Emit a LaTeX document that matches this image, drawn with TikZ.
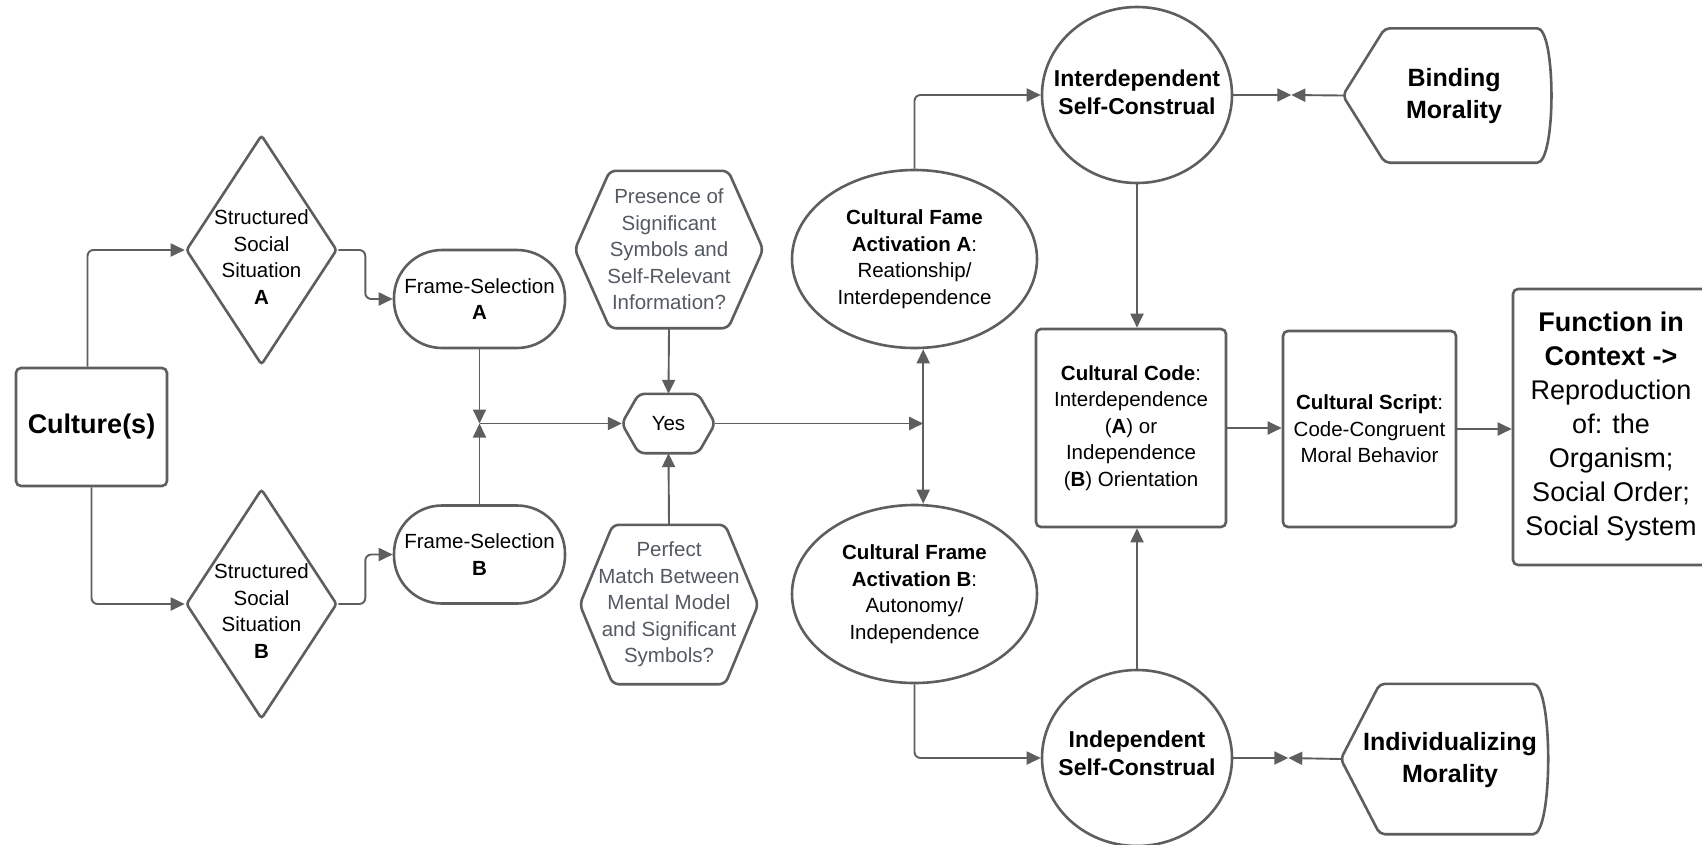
\documentclass[tikz,border=0pt]{standalone}
\usepackage{fontspec}
\setmainfont{Liberation Sans}
\usetikzlibrary{shapes.geometric,arrows.meta,calc}
\definecolor{edge}{RGB}{94,94,94}
\definecolor{qtext}{RGB}{84,90,98}

\tikzset{
  txt/.style={font=\fontsize{20.5}{26.5}\selectfont, text=black, align=center},
  shapeline/.style={draw=edge, line width=2.6pt},
  boxnode/.style={txt, shapeline, rectangle, rounded corners=5pt, inner sep=0pt},
  framenode/.style={txt, shapeline, rectangle, rounded corners=48pt, inner sep=0pt,
    minimum width=171pt, minimum height=98pt},
  diamondnode/.style={shapeline, diamond, rounded corners=3pt, inner sep=0pt,
    minimum width=151pt, minimum height=230pt},
  ovalnode/.style={txt, shapeline, ellipse, inner sep=0pt},
  hexnode/.style={txt, rectangle, inner sep=0pt},
  bigbold/.style={font=\fontsize{25}{32}\selectfont\bfseries},
  selfbold/.style={txt, font=\fontsize{23}{28}\selectfont\bfseries},
  conn/.style={draw=edge, line width=1.9pt, rounded corners=6pt},
  tip/.style={-{Triangle[length=14pt,width=13pt]}},
}

% hexagon outline around a plain rectangle node (#1), corner inset #2
\newcommand\hexoutline[2]{%
  \draw[shapeline, rounded corners=6pt] (#1.north) -- ([xshift=-#2pt]#1.north east)
    -- (#1.east) -- ([xshift=-#2pt]#1.south east) -- ([xshift=#2pt]#1.south west)
    -- (#1.west) -- ([xshift=#2pt]#1.north west) -- cycle;}

% display outline: pointed left end, bulging right end
\newcommand\displayoutline[3]{%
  \draw[shapeline, rounded corners=5pt] (#1.north) -- ([xshift=#2pt]#1.north west)
    -- (#1.west) -- ([xshift=#2pt]#1.south west) -- ([xshift=-#3pt]#1.south east)
    .. controls ([xshift=5pt]#1.south east) and ([xshift=5pt]#1.north east)
    .. ([xshift=-#3pt]#1.north east) -- cycle;}

\begin{document}
\begin{tikzpicture}[x=1pt,y=-1pt]
\fill[white] (0,0) rectangle (1702,844);
\useasboundingbox (0,0) rectangle (1702,844);

% ---- left part
\node[boxnode, minimum width=151pt, minimum height=118pt,
      font=\fontsize{27}{32}\selectfont\bfseries] (cul) at (91.5,427) {Culture(s)};

\node[diamondnode] (sa) at (261.5,250) {};
\node[txt] at (261.5,257) {Structured\\Social\\Situation\\\textbf{A}};
\node[diamondnode] (sb) at (261.5,604) {};
\node[txt] at (261.5,611) {Structured\\Social\\Situation\\\textbf{B}};

\node[framenode] (fa) at (479.5,299) {Frame-Selection\\\textbf{A}};
\node[framenode] (fb) at (479.5,554.5) {Frame-Selection\\\textbf{B}};

% ---- decision hexagons
\node[hexnode, minimum width=188pt, minimum height=157pt, text=qtext] (pres) at (669,249.5)
  {Presence of\\Significant\\Symbols and\\Self-Relevant\\Information?};
\hexoutline{pres}{35}
\node[hexnode, minimum width=93pt, minimum height=59pt] (yes) at (668.5,423.5) {Yes};
\hexoutline{yes}{17}
\node[hexnode, minimum width=178pt, minimum height=159pt, text=qtext] (perf) at (669,604.5)
  {Perfect\\Match Between\\Mental Model\\and Significant\\Symbols?};
\hexoutline{perf}{33}

% ---- frame activations
\node[ovalnode, minimum width=245pt, minimum height=178pt] (ea) at (914.5,259)
  {\textbf{Cultural Fame}\\\textbf{Activation A}:\\Reationship/\\Interdependence};
\node[ovalnode, minimum width=245pt, minimum height=178pt] (eb) at (914.5,594)
  {\textbf{Cultural Frame}\\\textbf{Activation B}:\\Autonomy/\\Independence};

% ---- self-construals (text as labels so the outline keeps its size)
\node[ovalnode, minimum width=190pt, minimum height=176pt,
      label={[selfbold, yshift=3pt]center:{Interdependent\\Self-Construal}}] (ic) at (1137,95) {};
\node[ovalnode, minimum width=190pt, minimum height=176pt,
      label={[selfbold, yshift=5pt]center:{Independent\\Self-Construal}}] (nc) at (1137,758) {};

% ---- moralities
\node[inner sep=0pt, minimum width=208pt, minimum height=134pt] (bind) at (1447,95.5) {};
\displayoutline{bind}{42}{19}
\node[txt, bigbold] at (1454,96) {Binding\\Morality};
\node[inner sep=0pt, minimum width=207pt, minimum height=150pt] (ind) at (1444.5,759) {};
\displayoutline{ind}{39}{20}
\node[txt, bigbold] at (1450,760.5) {Individualizing\\Morality};

% ---- code, script, function
\node[boxnode, minimum width=190pt, minimum height=198pt] (code) at (1131,428)
  {\textbf{Cultural Code}:\\Interdependence\\(\textbf{A}) or\\Independence\\(\textbf{B}) Orientation};
\node[boxnode, minimum width=173pt, minimum height=196pt] (script) at (1369.5,429)
  {\textbf{Cultural Script}:\\Code-Congruent\\Moral Behavior};
\node[boxnode, minimum width=196pt, minimum height=276pt,
      font=\fontsize{27}{34}\selectfont] (func) at (1611,427)
  {\textbf{Function in}\\\textbf{Context ->}\\Reproduction\\of: the\\Organism;\\Social Order;\\Social System};

% ---- junctions
\coordinate (j1) at (fa.south |- yes.west);
\coordinate (j2) at ([xshift=208pt]yes.east);
\coordinate (mb) at ([xshift=58pt]ic.east);
\coordinate (mi) at ([xshift=55pt]nc.east);

% ---- connectors
\draw[conn, tip] ([xshift=-4pt]cul.north) |- (sa.west);
\draw[conn, tip] (cul.south) |- (sb.west);
\draw[conn, tip] (sa.east) -- ++(27,0) |- (fa.west);
\draw[conn, tip] (sb.east) -- ++(27,0) |- (fb.west);
\draw[conn, tip] (fa.south) -- (j1);
\draw[conn, tip] (fb.north) -- (j1);
\draw[conn, tip] (j1) -- (yes.west);
\draw[conn, tip] (pres.south) -- (yes.north);
\draw[conn, tip] (perf.north) -- (yes.south);
\draw[conn, tip] (yes.east) -- (j2);
\draw[conn, tip] (j2) -- (j2 |- ea.south);
\draw[conn, tip] (j2) -- (j2 |- eb.north);
\draw[conn, tip] (ea.north) |- (ic.west);
\draw[conn, tip] (eb.south) |- (nc.west);
\draw[conn, tip] (ic.south) -- (ic.south |- code.north);
\draw[conn, tip] (nc.north) -- (nc.north |- code.south);
\draw[conn, tip] (code.east) -- (code.east -| script.west);
\draw[conn, tip] (script.east) -- (script.east -| func.west);
\draw[conn, tip] (ic.east) -- (mb);
\draw[conn, tip] (bind.west) -- (mb);
\draw[conn, tip] (nc.east) -- (mi);
\draw[conn, tip] (ind.west) -- (mi);
\end{tikzpicture}
\end{document}
